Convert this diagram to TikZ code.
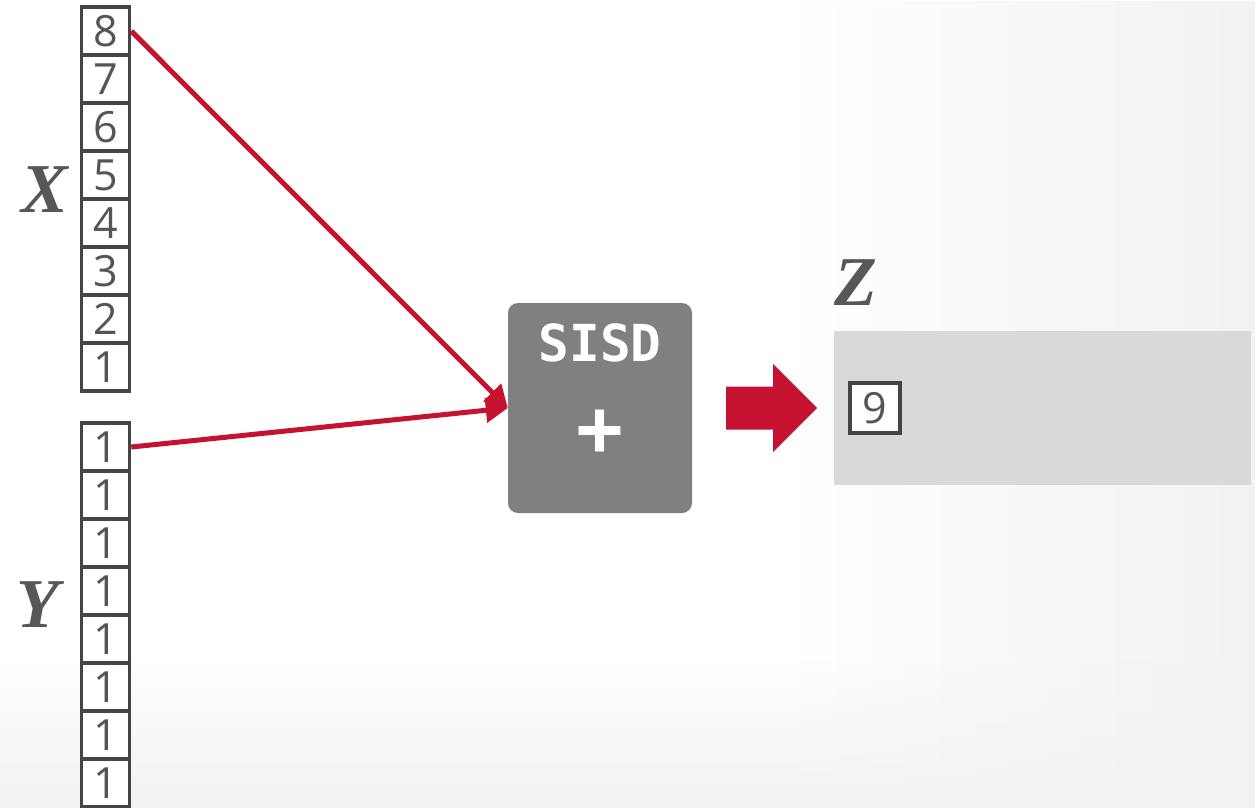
\documentclass[tikz,border=0pt]{standalone}
\usepackage{fontspec}
\setmainfont{Liberation Serif}
\newfontfamily\digitfont{Open Sans}
\newfontfamily\monofont{DejaVu Sans Mono}
\usetikzlibrary{arrows.meta,fadings}
\definecolor{cellline}{HTML}{444444}
\definecolor{celltext}{HTML}{555555}
\definecolor{labelgray}{HTML}{575757}
\definecolor{boxgray}{HTML}{808080}
\definecolor{zgray}{HTML}{D9D9D9}
\definecolor{crimson}{HTML}{C41230}
\definecolor{bgedge}{HTML}{F2F2F2}
\tikzset{
  cell/.style={draw=cellline, line width=3.5pt, fill=white, minimum size=48pt, inner sep=0pt,
    text=celltext, font=\digitfont\fontsize{43}{43}\selectfont},
  vlabel/.style={text=labelgray, inner sep=0pt, font=\bfseries\itshape\fontsize{70}{70}\selectfont},
  redline/.style={draw=crimson, line width=5pt, -{Triangle[length=22pt,width=24pt]}},
  bigarrow/.style={fill=crimson, draw=none},
}
\begin{document}
\begin{tikzpicture}[x=1pt,y=-1pt]
\useasboundingbox (0,0) rectangle (1255,808);
% background
\fill[white] (0,0) rectangle (1255,808);
\fill[bgedge, path fading=west] (800,0) rectangle (1255,808);
\fill[bgedge, path fading=north] (0,660) rectangle (1255,808);
% X column
\foreach \v [count=\i from 0] in {8,7,6,5,4,3,2,1} {
  \node[cell] (x\v) at (105.5,{31+48*\i}) {\v};
}
% Y column
\foreach \i in {0,...,7} {
  \node[cell] (y\i) at (105.5,{447+48*\i}) {1};
}
\node[vlabel] (xlab) at (45,190) {X};
\node[vlabel] (ylab) at (38,605) {Y};
% SISD box
\node[rounded corners=10pt, fill=boxgray, minimum width=184pt, minimum height=210pt, inner sep=0pt] (sisd) at (600,408) {};
\node[text=white, inner sep=0pt, font=\monofont\bfseries\fontsize{51}{51}\selectfont] (sisdtxt) at (600,343) {SISD};
\node[text=white, inner sep=0pt, font=\monofont\bfseries\fontsize{78}{78}\selectfont] (plus) at (600,433) {+};
% connectors
\draw[redline] (x8.east) -- (sisd.west);
\draw[redline] (y0.east) -- (sisd.west);
% big arrow
\fill[bigarrow] (726,386.5) -- (773,386.5) -- (773,364) -- (817,408) -- (773,452) -- (773,429.5) -- (726,429.5) -- cycle;
% Z
\node[vlabel] (zlab) at (856,283) {Z};
\node[fill=zgray, minimum width=417pt, minimum height=154pt, inner sep=0pt] (zbox) at (1042.5,408) {};
\node[cell, minimum size=50pt] (z9) at (875,408) {9};
\end{tikzpicture}
\end{document}
